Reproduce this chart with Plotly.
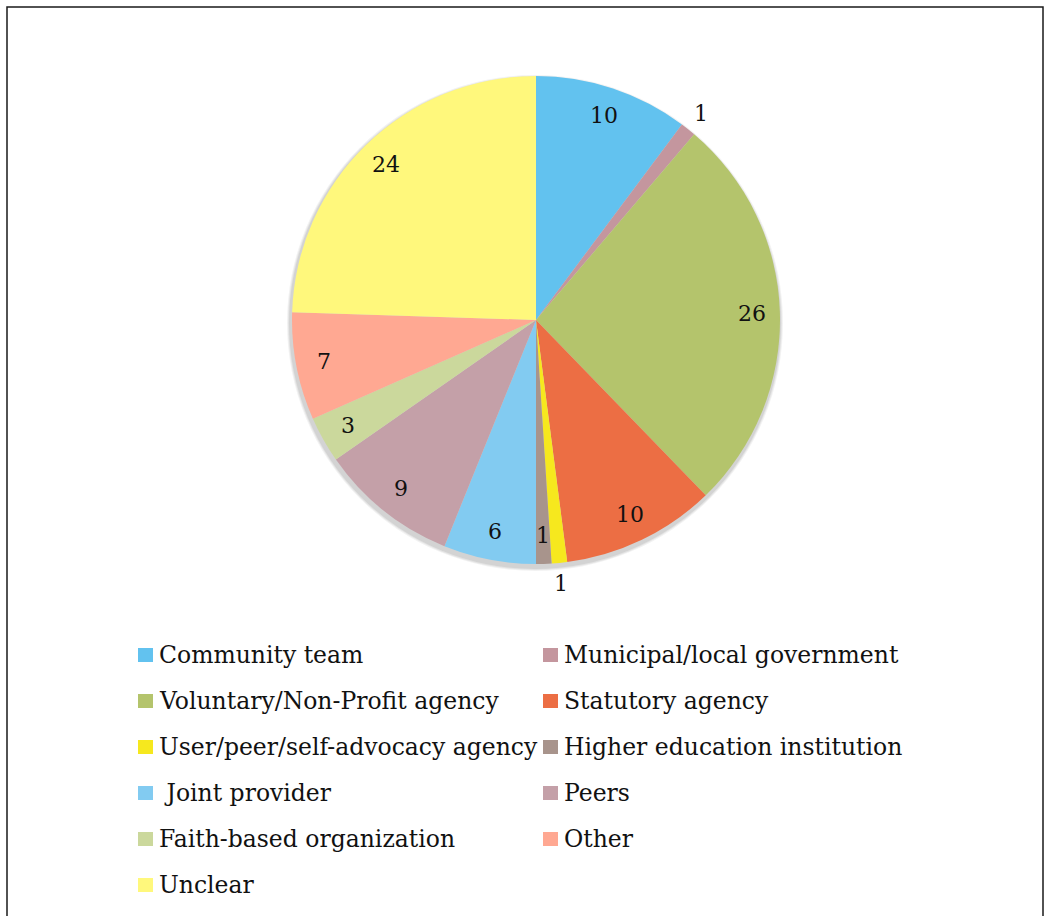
import math
import plotly.graph_objects as go

# Provider categories and counts (clockwise from 12 o'clock)
categories = [
    "Community team",
    "Municipal/local government",
    "Voluntary/Non-Profit agency",
    "Statutory agency",
    "User/peer/self-advocacy agency",
    "Higher education institution",
    " Joint provider",
    "Peers",
    "Faith-based organization",
    "Other",
    "Unclear",
]
counts = [10, 1, 26, 10, 1, 1, 6, 9, 3, 7, 24]
colors = [
    "#62c2ef", "#c4969e", "#b4c46c", "#ec6e44", "#f6e81e", "#a8948c",
    "#82cbf1", "#c4a0a8", "#cbd89c", "#ffa892", "#fff87c",
]
# where each value label sits: inside the slice or just beyond the rim
label_places = [
    "inside", "outside", "inside", "inside", "outside", "inside",
    "inside", "inside", "inside", "inside", "inside",
]

W, H = 1049, 916
FONT = "DejaVu Serif"

# pie geometry in pixels
cx, cy, r = 536, 320, 244

fig = go.Figure(
    go.Pie(
        labels=categories,
        values=counts,
        sort=False,
        direction="clockwise",
        rotation=0,
        marker=dict(colors=colors, line=dict(width=0)),
        textinfo="none",
        showlegend=False,
        domain=dict(
            x=[(cx - r) / W, (cx + r) / W],
            y=[1 - (cy + r) / H, 1 - (cy - r) / H],
        ),
    )
)

shapes = []
annotations = []

# soft shadow under the pie, falling down and to the left
for k, op in [(4, 0.05), (3, 0.06), (2, 0.07)]:
    shapes.append(dict(
        type="circle", xref="paper", yref="paper", layer="below",
        x0=(cx - r - k - 1) / W, x1=(cx + r + k - 1) / W,
        y0=1 - (cy + r + k + 3) / H, y1=1 - (cy - r - k + 3) / H,
        fillcolor=f"rgba(0,0,0,{op})", line=dict(width=0),
    ))

# value labels placed along each slice's mid-angle
total = sum(counts)
cum = 0
for v, place in zip(counts, label_places):
    theta = 2 * math.pi * (cum + v / 2) / total
    cum += v
    k = 0.885 if place == "inside" else 1.085
    px = cx + k * r * math.sin(theta)
    py = cy - k * r * math.cos(theta)
    annotations.append(dict(
        text=str(v), xref="paper", yref="paper",
        x=px / W, y=1 - py / H,
        xanchor="center", yanchor="middle", showarrow=False,
        font=dict(family=FONT, size=22, color="#111111"),
    ))

# two-column legend built from the category list
col_x = [138, 543]
row_y0, row_gap = 655, 46
for i, (name, col) in enumerate(zip(categories, colors)):
    c, row = i % 2, i // 2
    x = col_x[c]
    y = row_y0 + row * row_gap
    shapes.append(dict(
        type="rect", xref="paper", yref="paper",
        x0=x / W, x1=(x + 15) / W,
        y0=1 - (y + 7) / H, y1=1 - (y - 7) / H,
        fillcolor=col, line=dict(width=0),
    ))
    annotations.append(dict(
        text=name, xref="paper", yref="paper",
        x=(x + 19) / W, y=1 - y / H,
        xanchor="left", yanchor="middle", showarrow=False,
        font=dict(family=FONT, size=23.5, color="#111111"),
    ))

# outer frame
shapes.append(dict(
    type="rect", xref="paper", yref="paper",
    x0=7 / W, x1=1043 / W, y0=-0.05, y1=1 - 7 / H,
    line=dict(color="#1a1a1a", width=1.5), fillcolor="rgba(0,0,0,0)",
))

fig.update_layout(
    width=W, height=H,
    margin=dict(l=0, r=0, t=0, b=0),
    paper_bgcolor="white",
    plot_bgcolor="white",
    shapes=shapes,
    annotations=annotations,
)

fig.write_html("out.html")
